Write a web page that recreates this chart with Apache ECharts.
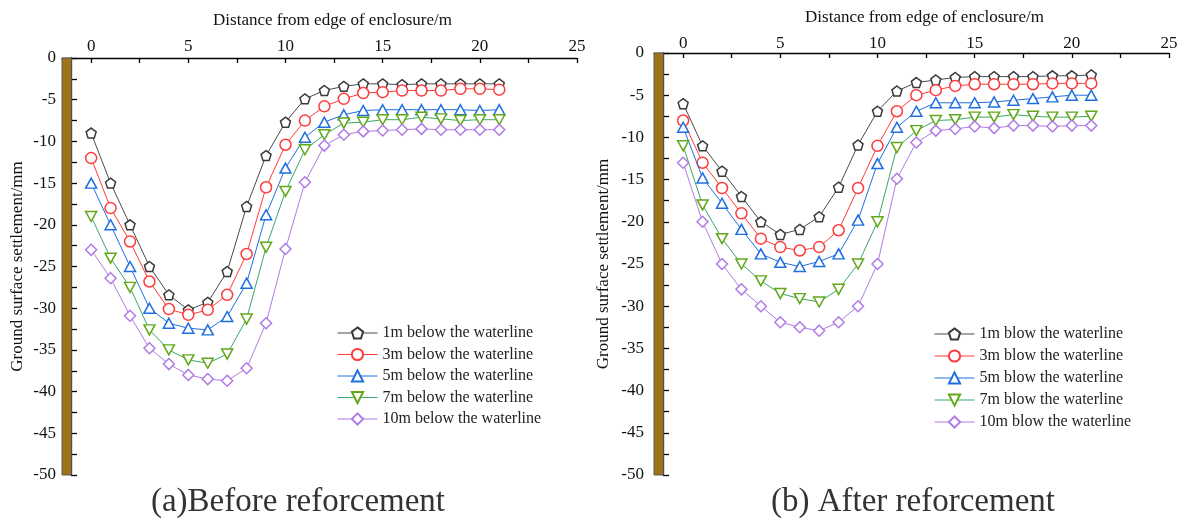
<!DOCTYPE html>
<html>
<head>
<meta charset="utf-8">
<script src="https://cdn.jsdelivr.net/npm/echarts@6/dist/echarts.min.js"></script>
<style>html,body{margin:0;padding:0;background:#fff}#c{width:1184px;height:520px}</style>
</head>
<body>
<div id="c"></div>
<script>
// ---- data ----
const distance = [0,1,2,3,4,5,6,7,8,9,10,11,12,13,14,15,16,17,18,19,20,21];
const xTicks = [0,2.5,5,7.5,10,12.5,15,17.5,20,22.5,25];
const xLabels = [0,5,10,15,20,25];

const namesBefore = ['1m below the waterline','3m below the waterline','5m below the waterline','7m below the waterline','10m below the waterline'];
const namesAfter = ['1m blow the waterline','3m blow the waterline','5m blow the waterline','7m blow the waterline','10m blow the waterline'];

const before1 = [-9,-15,-20,-25,-28.4,-30.2,-29.3,-25.6,-17.8,-11.7,-7.7,-4.9,-3.9,-3.4,-3.1,-3.1,-3.2,-3.1,-3.1,-3.1,-3.1,-3.1];
const before3 = [-12,-18,-22,-26.8,-30.1,-30.8,-30.2,-28.4,-23.5,-15.5,-10.4,-7.5,-5.8,-4.9,-4.2,-4.1,-3.9,-3.9,-3.9,-3.7,-3.7,-3.8];
const before5 = [-15,-20,-25,-30,-31.8,-32.4,-32.6,-31,-27,-18.8,-13.2,-9.5,-7.7,-6.8,-6.3,-6.2,-6.2,-6.2,-6.2,-6.2,-6.3,-6.2];
const before7 = [-19,-24,-27.5,-32.6,-35,-36.2,-36.6,-35.5,-31.3,-22.7,-16,-11,-9.2,-7.8,-7.7,-7.4,-7.4,-7.1,-7.3,-7.5,-7.4,-7.4];
const before10 = [-23,-26.4,-30.9,-34.8,-36.7,-38,-38.5,-38.7,-37.2,-31.8,-22.9,-14.9,-10.5,-9.2,-8.8,-8.7,-8.6,-8.5,-8.6,-8.6,-8.6,-8.6];

const after1 = [-6,-11,-14,-17,-20,-21.5,-20.9,-19.4,-15.9,-10.9,-6.9,-4.5,-3.5,-3.2,-2.9,-2.8,-2.8,-2.8,-2.8,-2.7,-2.7,-2.6];
const after3 = [-8,-13,-16,-19,-22,-23,-23.4,-23,-21,-16,-11,-6.9,-5,-4.4,-3.9,-3.7,-3.7,-3.7,-3.7,-3.6,-3.6,-3.6];
const after5 = [-8.8,-14.8,-17.8,-20.9,-23.8,-24.8,-25.3,-24.7,-23.8,-19.8,-13.1,-8.8,-6.9,-5.9,-5.9,-5.9,-5.8,-5.6,-5.4,-5.2,-5.0,-5.0];
const after7 = [-11,-18,-22,-25,-27,-28.5,-29.1,-29.5,-28,-25,-20,-11.2,-9.2,-8,-7.9,-7.6,-7.6,-7.3,-7.5,-7.6,-7.6,-7.5];
const after10 = [-13,-20,-25,-28,-30,-31.9,-32.5,-32.9,-31.9,-30,-25,-14.9,-10.6,-9.2,-9,-8.7,-8.9,-8.6,-8.6,-8.7,-8.6,-8.6];

// ---- styles ----
const FONT = 'Liberation Serif';
const lineColors = ['#4a4a4a','#ff3b3b','#1f6fe0','#3aa866','#b07be6'];
const markColors = ['#3a3a3a','#ff3b3b','#1f6fe0','#62a818','#b07be6'];
const symbols = [
  'path://M0,-1 L0.951,-0.309 L0.588,0.809 L-0.588,0.809 L-0.951,-0.309 Z',
  'circle',
  'triangle',
  'path://M-1,-0.85 L1,-0.85 L0,0.85 Z',
  'diamond'
];
const symSizes = [10,11,[11,10],[11,10],[11,11]];

function mkSeries(names, arrays, idx) {
  return arrays.map((arr, i) => {
    const s = {
      name: names[i],
      type: 'line',
      xAxisIndex: idx,
      yAxisIndex: idx,
      data: distance.map((d, k) => [d, arr[k]]),
      symbol: symbols[i],
      symbolSize: symSizes[i],
      showAllSymbol: true,
      lineStyle: { color: lineColors[i], width: 1 },
      itemStyle: { color: '#ffffff', borderColor: markColors[i], borderWidth: 1.5 },
      emphasis: { disabled: true },
      z: 3 + i
    };
    if (i === 0) {
      s.markArea = {
        silent: true,
        z: 1,
        itemStyle: { color: '#9e7418', borderColor: '#5a5a5a', borderWidth: 1 },
        data: [[{ xAxis: -1.5, yAxis: 0 }, { xAxis: -1.02, yAxis: -50 }]]
      };
    }
    return s;
  });
}

function mkX(gridIndex, labelMargin, nameGap) {
  return {
    type: 'value', gridIndex, position: 'top', min: -1.5, max: 25,
    name: 'Distance from edge of enclosure/m', nameLocation: 'middle', nameGap: nameGap,
    nameTextStyle: { fontFamily: FONT, fontSize: 17, color: '#111', padding: [0,0,0,26] },
    axisLine: { show: true, onZero: false, lineStyle: { color: '#000', width: 1.3 } },
    axisTick: { show: true, inside: true, length: 5, customValues: xTicks, lineStyle: { color: '#000', width: 1.3 } },
    axisLabel: { customValues: xLabels, margin: labelMargin, fontFamily: FONT, fontSize: 17, color: '#111' },
    splitLine: { show: false }
  };
}
function mkY(gridIndex, nameGap, margin) {
  return {
    type: 'value', gridIndex, min: -50, max: 0, interval: 5, offset: -9,
    name: 'Ground surface settlement/mm', nameLocation: 'middle', nameGap: nameGap, nameRotate: 90,
    nameTextStyle: { fontFamily: FONT, fontSize: 17, color: '#111' },
    axisLine: { show: true, onZero: false, lineStyle: { color: '#000', width: 1.3 } },
    axisTick: { show: true, inside: true, length: 6, lineStyle: { color: '#000', width: 1.3 } },
    minorTick: { show: true, splitNumber: 2, length: 6, lineStyle: { color: '#000', width: 1.3 } },
    axisLabel: { margin: margin, fontFamily: FONT, fontSize: 17, color: '#111' },
    splitLine: { show: false }
  };
}
function mkLegend(names, left, top, gap) {
  return {
    orient: 'vertical', left, top, padding: 0, itemWidth: 40, itemHeight: 14, itemGap: gap,
    lineStyle: { width: 1 },
    textStyle: { fontFamily: FONT, fontSize: 16, color: '#222' },
    data: names, selectedMode: false
  };
}

const chart = echarts.init(document.getElementById('c'), null, { renderer: 'canvas' });
chart.setOption({
  animation: false,
  backgroundColor: '#fff',
  grid: [
    { left: 62, top: 58, width: 515, height: 417, containLabel: false },
    { left: 654, top: 53, width: 515, height: 422, containLabel: false }
  ],
  xAxis: [mkX(0, 3, 29), mkX(1, 1, 27)],
  yAxis: [mkY(0, 45, 15), mkY(1, 51, 19)],
  legend: [mkLegend(namesBefore, 337, 325, 5.5), mkLegend(namesAfter, 934, 326, 6)],
  graphic: [
    { type: 'text', x: 298, y: 502, style: { text: '(a)Before reforcement', fontFamily: FONT, fontSize: 33, fill: '#333', textAlign: 'center', textVerticalAlign: 'middle' } },
    { type: 'text', x: 913, y: 502, style: { text: '(b) After reforcement', fontFamily: FONT, fontSize: 33, fill: '#333', textAlign: 'center', textVerticalAlign: 'middle' } }
  ],
  series: [
    ...mkSeries(namesBefore, [before1, before3, before5, before7, before10], 0),
    ...mkSeries(namesAfter, [after1, after3, after5, after7, after10], 1)
  ]
});
</script>
</body>
</html>
